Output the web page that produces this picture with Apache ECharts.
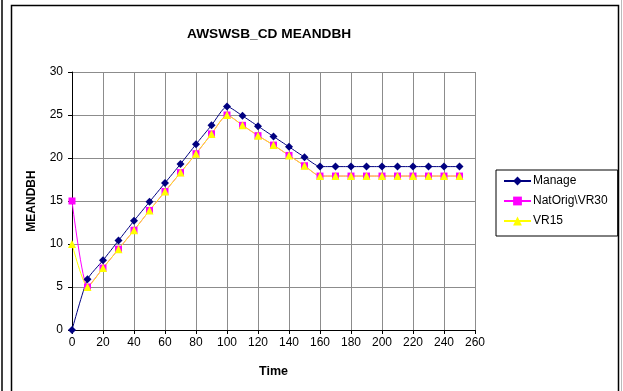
<!DOCTYPE html>
<html>
<head>
<meta charset="utf-8">
<script src="https://cdn.jsdelivr.net/npm/echarts@6/dist/echarts.min.js"></script>
<style>
    html, body { margin: 0; padding: 0; background: #fff; }
    #chart { width: 623px; height: 391px; }
</style>
</head>
<body>
<div id="chart"></div>
<script>
// 图表数据
var timeData = [0, 10, 20, 30, 40, 50, 60, 70, 80, 90, 100, 110, 120, 130, 140, 150, 160, 170, 180, 190, 200, 210, 220, 230, 240, 250];
var manageData = [0, 5.9, 8.1, 10.4, 12.7, 14.9, 17.1, 19.3, 21.6, 23.8, 26.0, 24.9, 23.7, 22.5, 21.3, 20.1, 19.0, 19.0, 19.0, 19.0, 19.0, 19.0, 19.0, 19.0, 19.0, 19.0];
var natOrigData = [15, 5.0, 7.2, 9.4, 11.6, 13.9, 16.1, 18.3, 20.5, 22.8, 25.0, 23.8, 22.6, 21.5, 20.3, 19.1, 17.9, 17.9, 17.9, 17.9, 17.9, 17.9, 17.9, 17.9, 17.9, 17.9];
var vr15Data = [10, 5.0, 7.2, 9.4, 11.6, 13.9, 16.1, 18.3, 20.5, 22.8, 25.0, 23.8, 22.6, 21.5, 20.3, 19.1, 17.9, 17.9, 17.9, 17.9, 17.9, 17.9, 17.9, 17.9, 17.9, 17.9];
var xTicks = [0, 20, 40, 60, 80, 100, 120, 140, 160, 180, 200, 220, 240, 260];
var yTicks = [0, 5, 10, 15, 20, 25, 30];

var FONT = '"Liberation Sans", Arial, sans-serif';

function pairs(values) {
    return timeData.map(function (t, i) { return [t, values[i]]; });
}

function makeSeries(name, values, color, symbol, size) {
    return {
        name: name,
        type: 'line',
        data: pairs(values),
        smooth: 0.2,
        symbol: symbol,
        symbolSize: size,
        lineStyle: { color: color, width: 1 },
        itemStyle: { color: color },
        emphasis: { disabled: true }
    };
}

var chart = echarts.init(document.getElementById('chart'));
chart.setOption({
    animation: false,
    backgroundColor: '#fff',
    title: {
        text: 'AWSWSB_CD MEANDBH',
        left: 182,
        top: 22,
        textStyle: { fontFamily: FONT, fontSize: 13.7, fontWeight: 'bold', color: '#000' }
    },
    legend: {
        orient: 'vertical',
        left: 496,
        top: 170,
        itemWidth: 27,
        itemHeight: 11,
        itemGap: 8,
        padding: [5, 10, 9, 7],
        borderColor: '#000',
        borderWidth: 1,
        textStyle: { fontFamily: FONT, fontSize: 12, color: '#000', padding: [0, 0, 0, -3] }
    },
    grid: { left: 72, top: 72, right: 148, bottom: 61, containLabel: false },
    xAxis: {
        type: 'value',
        min: 0,
        max: 260,
        interval: 20,
        name: 'Time',
        nameLocation: 'middle',
        nameGap: 35,
        nameTextStyle: { fontFamily: FONT, fontSize: 12.5, fontWeight: 'bold', color: '#000' },
        axisLine: { onZero: false, lineStyle: { color: '#000', width: 1 } },
        axisTick: { show: true, length: 4, lineStyle: { color: '#000' } },
        axisLabel: {
            fontFamily: FONT, fontSize: 12, color: '#000', margin: 7,
            formatter: function (v) { return xTicks.indexOf(v) >= 0 ? String(v) : ''; }
        },
        splitLine: { show: true, lineStyle: { color: '#8c8c8c', width: 1 } }
    },
    yAxis: {
        type: 'value',
        min: 0,
        max: 30,
        interval: 5,
        name: 'MEANDBH',
        nameLocation: 'middle',
        nameGap: 34,
        nameTextStyle: { fontFamily: FONT, fontSize: 12, fontWeight: 'bold', color: '#000' },
        axisLine: { show: true, lineStyle: { color: '#000', width: 1 } },
        axisTick: { show: true, length: 4, lineStyle: { color: '#000' } },
        axisLabel: {
            fontFamily: FONT, fontSize: 12, color: '#000', margin: 9,
            formatter: function (v) { return yTicks.indexOf(v) >= 0 ? String(v) : ''; }
        },
        splitLine: { show: true, lineStyle: { color: '#8c8c8c', width: 1 } }
    },
    graphic: [
        // 外框
        { type: 'rect', shape: { x: 11.5, y: 5.5, width: 607, height: 400 }, style: { fill: 'none', stroke: '#000', lineWidth: 1.5 }, silent: true },
        { type: 'line', shape: { x1: 2, y1: 0, x2: 2, y2: 391 }, style: { stroke: '#000', lineWidth: 1.5 }, silent: true },
        { type: 'line', shape: { x1: 621.5, y1: 0, x2: 621.5, y2: 391 }, style: { stroke: '#bbb', lineWidth: 1 }, silent: true }
    ],
    series: [
        makeSeries('Manage', manageData, '#000080', 'diamond', 8),
        makeSeries('NatOrig\\VR30', natOrigData, '#ff00ff', 'rect', 7),
        makeSeries('VR15', vr15Data, '#ffff00', 'triangle', 8)
    ]
});
</script>
</body>
</html>
